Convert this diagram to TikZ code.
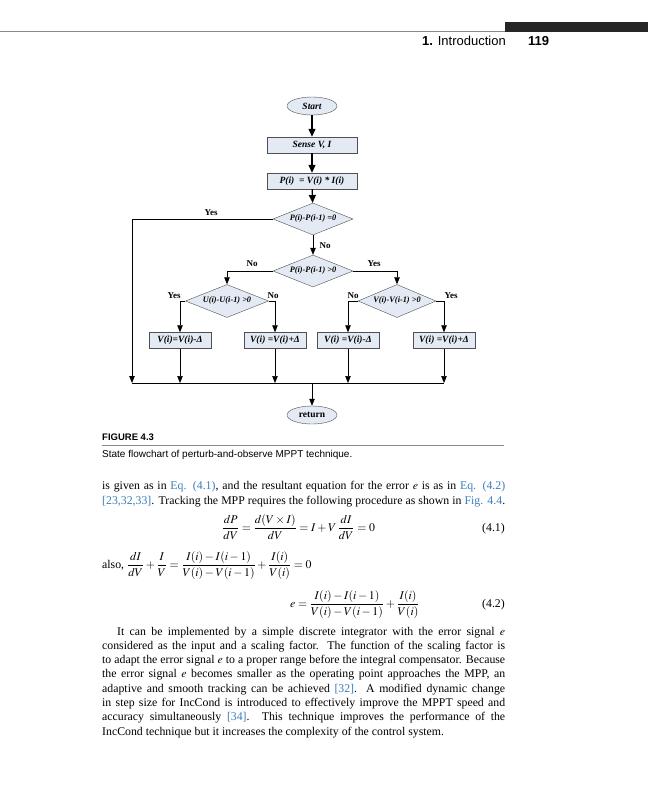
\documentclass[tikz,border=0pt]{standalone}
\usepackage{mathptmx}
\usepackage{fontspec}
\setmainfont{Liberation Serif}
\setsansfont{Liberation Sans}
\usetikzlibrary{shapes.geometric,arrows.meta,positioning,calc}
\definecolor{FlowFill}{HTML}{E4EAF4}
\definecolor{FlowLine}{HTML}{505050}
\definecolor{LinkBlue}{HTML}{3B7DBA}
\definecolor{RuleGray}{HTML}{8A8A8A}
\newcommand{\flowfont}{\fontsize{9.5}{11}\selectfont\bfseries\itshape}
\newcommand{\testfont}{\fontsize{8.3}{10}\selectfont\bfseries\itshape}
\newcommand{\bodyfont}{\fontsize{11.8}{14.3}\selectfont}
\newcommand{\lnk}[1]{\textcolor{LinkBlue}{#1}}
\newcommand{\jline}[1]{\makebox[403pt][s]{#1}}

\begin{document}
\begin{tikzpicture}[x=1pt,y=-1pt,
  flowbox/.style={draw=FlowLine,fill=FlowFill,minimum width=62pt,minimum height=16pt,inner sep=1pt,font=\flowfont},
  test/.style={diamond,draw=FlowLine,fill=FlowFill,aspect=2.5,inner sep=0pt,minimum width=80pt,minimum height=32pt,font=\testfont},
  terminal/.style={ellipse,draw=FlowLine,fill=FlowFill,minimum width=50pt,minimum height=18pt,inner sep=0pt,font=\flowfont},
  lab/.style={font=\fontsize{9}{10}\selectfont\bfseries,inner sep=0pt},
  flow/.style={-{Triangle[length=7pt,width=5.5pt]},line width=0.6pt},
  mainflow/.style={-{Triangle[length=8pt,width=7pt]},line width=1.2pt},
  bodytext/.style={anchor=base west,inner sep=0pt,font=\bodyfont}]
  \useasboundingbox (0,0) rectangle (648,800);
  % running head
  \draw[RuleGray,line width=0.8pt] (0,31.5) -- (505,31.5);
  \fill[black!85] (505,22) rectangle (648,31.8);
  \node[anchor=base west,inner sep=0pt,font=\sffamily\fontsize{13}{15}\selectfont] (head) at (422,46) {{\bfseries 1.} Introduction};
  \node[anchor=base west,inner sep=0pt,font=\sffamily\bfseries\fontsize{13}{15}\selectfont] (page) at (528,46) {119};
  % flowchart
  \node[terminal] (start) at (312,106) {Start};
  \node[flowbox,minimum width=90pt] (sense) at (312,145) {Sense V, I};
  \node[flowbox,minimum width=90pt] (power) at (312,181) {P(i) \ = V(i) * I(i)};
  \node[test] (dzero) at (313,219) {P(i)-P(i-1) =0};
  \node[test] (dpos) at (313,271) {P(i)-P(i-1) >0};
  \node[test,minimum width=83pt,minimum height=33pt] (dcur) at (227,301) {U(i)-U(i-1) >0};
  \node[test,minimum width=78pt,minimum height=33pt] (dvolt) at (397,301) {V(i)-V(i-1) >0};
  \node[flowbox] (dec1) at (180,340.5) {V(i)=V(i)-Δ};
  \node[flowbox] (inc1) at (275,340.5) {V(i) =V(i)+Δ};
  \node[flowbox] (dec2) at (348,340.5) {V(i) =V(i)-Δ};
  \node[flowbox] (inc2) at (444,340.5) {V(i) =V(i)+Δ};
  \node[terminal,font=\fontsize{9.5}{11}\selectfont\bfseries] (ret) at (312,415) {return};
  \coordinate (busL) at (132,383);
  \coordinate (busR) at (inc2.south |- busL);
  \coordinate (busM) at (ret.north |- busL);
  \draw[mainflow] (start) -- (sense);
  \draw[mainflow] (sense) -- (power);
  \draw[mainflow] (power) -- (dzero);
  \draw[flow] (dzero) -- (dpos);
  \draw[flow,line width=0.8pt] (dzero.west) -| (busL);
  \draw[flow] (dpos.west) -| (dcur.north);
  \draw[flow] (dpos.east) -| (dvolt.north);
  \draw[flow] (dcur.west) -| (dec1.north);
  \draw[flow] (dcur.east) -| (inc1.north);
  \draw[flow] (dvolt.west) -| (dec2.north);
  \draw[flow] (dvolt.east) -| (inc2.north);
  \foreach \b in {dec1,inc1,dec2,inc2}{\draw[flow] (\b.south) -- (\b.south |- busL);}
  \draw[line width=0.8pt] (busL) -- (busR);
  \draw[flow] (busM) -- (ret);
  \node[lab] (yes1) at (211,213) {Yes};
  \node[lab] (no1) at (325,246) {No};
  \node[lab] (no2) at (252,264) {No};
  \node[lab] (yes2) at (374,264) {Yes};
  \node[lab] (yes3) at (174,296) {Yes};
  \node[lab] (no3) at (273,296) {No};
  \node[lab] (no4) at (353,296) {No};
  \node[lab] (yes4) at (451,296) {Yes};
  % caption
  \node[anchor=base west,inner sep=0pt,font=\sffamily\bfseries\fontsize{9.5}{11}\selectfont] (fig) at (102,440) {FIGURE 4.3};
  \draw[RuleGray,line width=0.6pt] (102,445) -- (504,445);
  \node[anchor=base west,inner sep=0pt,font=\sffamily\fontsize{10}{12}\selectfont] (cap) at (102,457) {State flowchart of perturb-and-observe MPPT technique.};
  % body text
  \node[bodytext] (t1) at (102,489.5) {\jline{is given as in \lnk{Eq. (4.1)}, and the resultant equation for the error $e$ is as in \lnk{Eq. (4.2)}}};
  \node[bodytext] (t2) at (102,504) {\jline{\lnk{[23,32,33]}. Tracking the MPP requires the following procedure as shown in \lnk{Fig. 4.4}.}};
  \node[bodytext] (eq1) at (222,531) {$\displaystyle \frac{dP}{dV}=\frac{d(V\times I)}{dV}=I+V\,\frac{dI}{dV}=0$};
  \node[bodytext,anchor=base east] (n1) at (505,531) {(4.1)};
  \node[bodytext] (eqa) at (102,568) {also, $\displaystyle \frac{dI}{dV}+\frac{I}{V}=\frac{I(i)-I(i-1)}{V(i)-V(i-1)}+\frac{I(i)}{V(i)}=0$};
  \node[bodytext] (eq2) at (290,607) {$\displaystyle e=\frac{I(i)-I(i-1)}{V(i)-V(i-1)}+\frac{I(i)}{V(i)}$};
  \node[bodytext,anchor=base east] (n2) at (505,607) {(4.2)};
  \node[bodytext] (p1) at (102,635) {\jline{\hspace{15pt}It can be implemented by a simple discrete integrator with the error signal $e$}};
  \node[bodytext] (p2) at (102,649.3) {\jline{considered as the input and a scaling factor. The function of the scaling factor is}};
  \node[bodytext] (p3) at (102,663.6) {\jline{to adapt the error signal $e$ to a proper range before the integral compensator. Because}};
  \node[bodytext] (p4) at (102,677.9) {\jline{the error signal $e$ becomes smaller as the operating point approaches the MPP, an}};
  \node[bodytext] (p5) at (102,692.2) {\jline{adaptive and smooth tracking can be achieved \lnk{[32]}. A modified dynamic change}};
  \node[bodytext] (p6) at (102,706.5) {\jline{in step size for IncCond is introduced to effectively improve the MPPT speed and}};
  \node[bodytext] (p7) at (102,720.8) {\jline{accuracy simultaneously \lnk{[34]}. This technique improves the performance of the}};
  \node[bodytext] (p8) at (102,735) {IncCond technique but it increases the complexity of the control system.};
\end{tikzpicture}
\end{document}
